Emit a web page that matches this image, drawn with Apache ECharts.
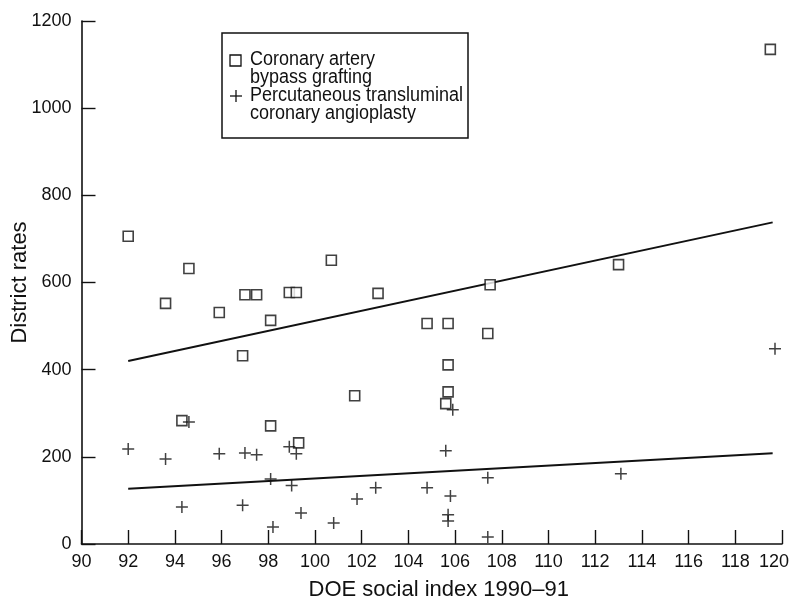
<!DOCTYPE html>
<html>
<head>
<meta charset="utf-8">
<script src="https://cdn.jsdelivr.net/npm/echarts@6/dist/echarts.min.js"></script>
<style>
html,body{margin:0;padding:0;background:#fff;}
#chart{width:791px;height:598px;}
</style>
</head>
<body>
<div id="chart"></div>
<script>
// Coronary artery bypass grafting (squares)
const cabgX = [92.0, 93.6, 94.6, 95.9, 96.9, 97.0, 97.5, 98.1, 98.9, 99.2, 100.7, 102.7, 104.8, 105.7, 107.4, 107.5, 113.0, 119.5, 105.7, 105.7, 105.6, 101.7, 99.3, 98.1, 94.3];
const cabgY = [706, 552, 632, 531, 432, 572, 572, 513, 577, 577, 651, 575, 506, 506, 483, 595, 641, 1135, 411, 349, 322, 340, 232, 271, 283];
// Percutaneous transluminal coronary angioplasty (crosses)
const ptcaX = [92.0, 93.6, 94.6, 95.9, 97.0, 97.5, 98.9, 99.2, 98.1, 99.0, 94.3, 96.9, 99.4, 98.2, 105.9, 105.6, 107.4, 102.6, 104.8, 101.8, 105.8, 105.7, 105.7, 100.8, 107.4, 119.7, 113.1];
const ptcaY = [218, 195, 280, 207, 209, 205, 223, 207, 149, 134, 85, 89, 71, 39, 308, 214, 152, 129, 129, 103, 110, 67, 53, 48, 16, 448, 161];
// Fitted regression lines (endpoints)
const cabgFitX = [92.0, 119.6];
const cabgFitY = [420, 738];
const ptcaFitX = [92.0, 119.6];
const ptcaFitY = [127, 208];
// Axis ticks
const xTicks = [90, 92, 94, 96, 98, 100, 102, 104, 106, 108, 110, 112, 114, 116, 118, 120];
const yTicks = [0, 200, 400, 600, 800, 1000, 1200];
const legendLines = ['Coronary artery', 'bypass grafting', 'Percutaneous transluminal', 'coronary angioplasty'];
const xTitle = 'DOE social index 1990–91';
const yTitle = 'District rates';

const zip = (a, b) => a.map((v, i) => [v, b[i]]);
const FONT = '"Liberation Sans", Arial, Helvetica, sans-serif';
const INK = '#111';
const xMax = xTicks[xTicks.length - 1];

const chart = echarts.init(document.getElementById('chart'), null, {renderer: 'canvas'});
const plusPath = 'path://M6,0 L6,12 M0,6 L12,6';

const option = {
  animation: false,
  backgroundColor: '#fff',
  grid: {left: 81.5, right: 9, top: 21, bottom: 54, containLabel: false, outerBoundsMode: 'none'},
  xAxis: {
    type: 'value', min: xTicks[0], max: xMax, interval: 2,
    name: xTitle, nameLocation: 'middle', nameGap: 35, nameMoveOverlap: false,
    nameTextStyle: {fontFamily: FONT, fontSize: 22, color: INK, padding: [0, 0, 0, 14]},
    axisLine: {show: true, onZero: false, lineStyle: {color: INK, width: 1.6}},
    axisTick: {show: true, inside: true, length: 14, lineStyle: {color: INK, width: 1.4}},
    axisLabel: {
      fontFamily: FONT, fontSize: 18, color: INK, margin: 9,
      formatter: v => v === xMax ? '{last|' + v + '}' : String(v),
      rich: {last: {fontFamily: FONT, fontSize: 18, color: INK, padding: [0, 16, 0, 0]}}
    },
    splitLine: {show: false}
  },
  yAxis: {
    type: 'value', min: yTicks[0], max: yTicks[yTicks.length - 1], interval: 200,
    name: yTitle, nameLocation: 'middle', nameGap: 51, nameRotate: 90, nameMoveOverlap: false,
    nameTextStyle: {fontFamily: FONT, fontSize: 22, color: INK},
    axisLine: {show: true, onZero: false, lineStyle: {color: INK, width: 1.6}},
    axisTick: {show: true, inside: true, length: 14, lineStyle: {color: INK, width: 1.4}},
    axisLabel: {fontFamily: FONT, fontSize: 18, color: INK, margin: 10, formatter: v => String(v)},
    splitLine: {show: false}
  },
  series: [
    {
      type: 'line', data: zip(cabgFitX, cabgFitY), symbol: 'none',
      lineStyle: {color: INK, width: 2}, silent: true, z: 1
    },
    {
      type: 'line', data: zip(ptcaFitX, ptcaFitY), symbol: 'none',
      lineStyle: {color: INK, width: 2}, silent: true, z: 1
    },
    {
      name: 'Coronary artery bypass grafting',
      type: 'scatter', data: zip(cabgX, cabgY), symbol: 'rect', symbolSize: 10,
      itemStyle: {color: '#fff', borderColor: INK, borderWidth: 1.6}, z: 3
    },
    {
      name: 'Percutaneous transluminal coronary angioplasty',
      type: 'scatter', data: zip(ptcaX, ptcaY), symbol: plusPath, symbolSize: 12,
      itemStyle: {color: 'transparent', borderColor: INK, borderWidth: 1.5}, z: 4
    }
  ],
  graphic: [
    {type: 'rect', shape: {x: 222, y: 33, width: 246, height: 105},
     style: {fill: '#fff', stroke: INK, lineWidth: 1.5}, z: 10},
    {type: 'rect', shape: {x: 230, y: 55, width: 11, height: 11},
     style: {fill: '#fff', stroke: INK, lineWidth: 1.3}, z: 11},
    {type: 'line', shape: {x1: 230, y1: 96, x2: 242, y2: 96}, style: {stroke: INK, lineWidth: 1.3}, z: 11},
    {type: 'line', shape: {x1: 236, y1: 90, x2: 236, y2: 102}, style: {stroke: INK, lineWidth: 1.3}, z: 11},
    ...legendLines.map((t, i) => ({
      type: 'text', x: 250, y: 59 + i * 18.3, z: 11, scaleX: 0.9,
      style: {text: t, font: '20px ' + FONT, fill: INK, verticalAlign: 'middle', align: 'left'}
    }))
  ]
};
chart.setOption(option);
</script>
</body>
</html>
